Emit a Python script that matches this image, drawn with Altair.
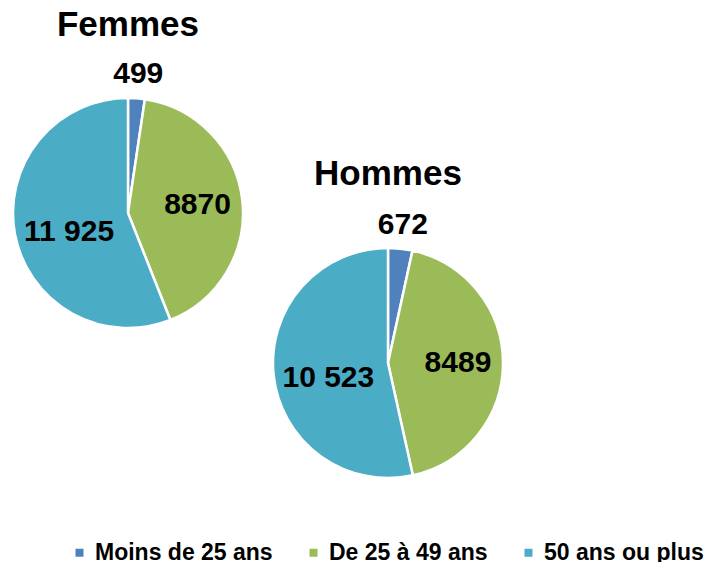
import altair as alt
import pandas as pd

groups = ["Femmes", "Hommes"]
categories = ["Moins de 25 ans", "De 25 à 49 ans", "50 ans ou plus"]
femmes_values = [499, 8870, 11925]
hommes_values = [672, 8489, 10523]
femmes_labels = ["499", "8870", "11 925"]
hommes_labels = ["672", "8489", "10 523"]
colors = ["#4F81BD", "#9BBB59", "#4BACC6"]

rows = []
for g, vals, labs in [("Femmes", femmes_values, femmes_labels), ("Hommes", hommes_values, hommes_labels)]:
    for i, (c, v, l) in enumerate(zip(categories, vals, labs)):
        rows.append({"group": g, "category": c, "value": v, "label": l, "order": i})
df = pd.DataFrame(rows)

FONT = "Liberation Sans"
centers = {"Femmes": (120, 205), "Hommes": (380, 355)}
title_pos = {"Femmes": (120, 28), "Hommes": (380, 177)}
R = 115

color_scale = alt.Scale(domain=categories, range=colors)

layers = []
for g in groups:
    cx, cy = centers[g]
    base = alt.Chart(df).transform_filter(alt.datum.group == g)
    arcs = base.mark_arc(outerRadius=R, stroke="white", strokeWidth=2.5).encode(
        theta=alt.Theta("value:Q", stack=True),
        color=alt.Color(
            "category:N",
            scale=color_scale,
            sort=categories,
            legend=alt.Legend(
                title=None,
                orient="none",
                direction="horizontal",
                legendX=60,
                legendY=533,
                symbolType="square",
                symbolSize=64,
                symbolStrokeWidth=0,
                labelFont=FONT,
                labelFontSize=23,
                labelFontWeight="bold",
                labelColor="#000000",
                labelOffset=4,
                columnPadding=29,
                padding=0,
                labelLimit=300,
            ),
        ),
        order=alt.Order("order:Q"),
        x=alt.value(cx),
        y=alt.value(cy),
    )
    labels = (
        base.transform_window(cum="sum(value)", sort=[alt.SortField("order")], frame=[None, 0])
        .transform_joinaggregate(total="sum(value)")
        .transform_calculate(
            frac="datum.value / datum.total",
            ang="2 * PI * (datum.cum - datum.value / 2) / datum.total",
        )
        .transform_calculate(
            r="datum.frac < 0.05 ? 139 : (datum.frac > 0.5 ? 60 : 70)"
        )
        .transform_calculate(
            px=f"{cx} + datum.r * sin(datum.ang)",
            py=f"{cy} - datum.r * cos(datum.ang) + (datum.frac > 0.5 ? 8 : 0)",
        )
        .mark_text(font=FONT, fontSize=30, fontWeight="bold", color="#000000")
        .encode(
            x=alt.X("px:Q", scale=None, axis=None),
            y=alt.Y("py:Q", scale=None, axis=None),
            text="label:N",
        )
    )
    tx, ty = title_pos[g]
    title = alt.Chart(pd.DataFrame({"t": [g]})).mark_text(
        font=FONT, fontSize=35, fontWeight="bold", color="#000000", baseline="alphabetic"
    ).encode(text="t:N", x=alt.value(tx), y=alt.value(ty))
    layers += [arcs, labels, title]

chart = alt.layer(*layers).resolve_scale(theta="independent").properties(
    width=699, height=554, autosize="none", padding=0
).configure_view(stroke=None)

chart.save("out.html", embed_options={"renderer": "svg", "actions": False})
